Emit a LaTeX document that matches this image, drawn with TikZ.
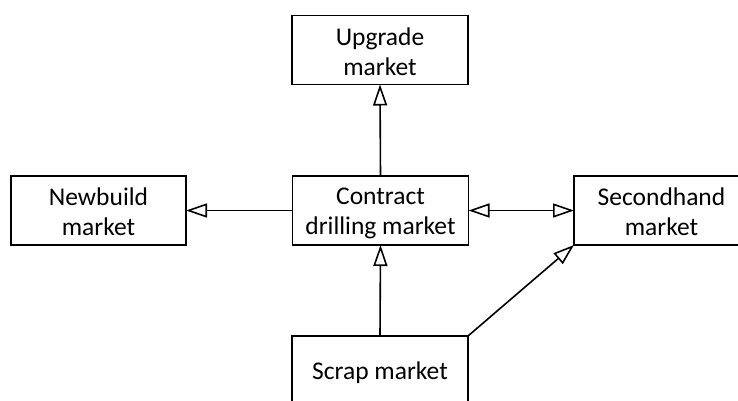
\documentclass[tikz,border=0pt]{standalone}
\usepackage{fontspec}
\setmainfont{Carlito}
\usetikzlibrary{arrows.meta}
\newcommand\tu{\rule{0pt}{23pt}}
\newcommand\td{\rule[-3pt]{0pt}{3pt}}
\tikzset{
  mbox/.style={draw, line width=1.6pt, minimum width=176pt, minimum height=69pt,
    inner sep=0pt, outer sep=0pt, align=center,
    font=\fontsize{25.5}{30}\selectfont},
  conn/.style={line width=1.6pt, -{Triangle[open, length=21pt, width=14pt, line width=1.6pt]}},
  dconn/.style={line width=1.6pt, {Triangle[open, length=21pt, width=14pt, line width=1.6pt]}-{Triangle[open, length=21pt, width=14pt, line width=1.6pt]}}
}
\begin{document}
\begin{tikzpicture}[x=1pt,y=-1pt]
\path[use as bounding box, clip] (0,0) rectangle (738,400);
\node[mbox] (up) at (380,50) {\tu Upgrade\\market\td};
\node[mbox, minimum width=175pt] (nb) at (98.5,210.5) {\tu Newbuild\\market\td};
\node[mbox] (cd) at (380.5,210.5) {\tu Contract\\drilling market\td};
\node[mbox, minimum width=175pt] (sh) at (661.5,210.5) {\tu Secondhand\\market\td};
\node[mbox] (sc) at (380,370.5) {\tu Scrap market\td};
\draw[conn] (cd.north) -- (up.south);
\draw[conn] (cd.west) -- (nb.east);
\draw[dconn] (cd.east) -- (sh.west);
\draw[conn] (sc.north) -- (cd.south);
\draw[conn] (sc.north east) -- (sh.south west);
\end{tikzpicture}
\end{document}
